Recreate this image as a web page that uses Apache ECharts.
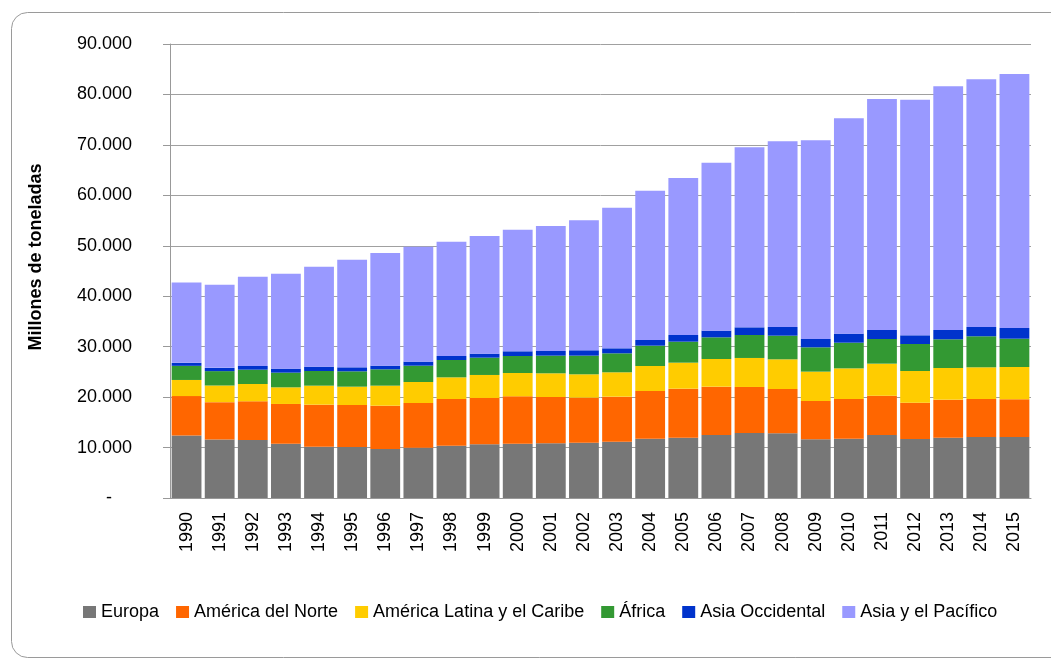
<!DOCTYPE html>
<html>
<head>
<meta charset="utf-8">
<script src="https://cdn.jsdelivr.net/npm/echarts@6/dist/echarts.min.js"></script>
<style>
html,body{margin:0;padding:0;background:#fff;}
#c{width:1051px;height:660px;}
</style>
</head>
<body>
<div id="c"></div>
<script>
const years = ['1990','1991','1992','1993','1994','1995','1996','1997','1998','1999','2000','2001','2002','2003','2004','2005','2006','2007','2008','2009','2010','2011','2012','2013','2014','2015'];
const europa = [12400,11600,11500,10770,10180,10110,9710,9980,10380,10640,10770,10840,10970,11170,11760,11960,12490,12890,12820,11630,11760,12490,11700,11960,12090,12090];
const americaNorte = [7800,7400,7670,7870,8320,8330,8590,8850,9250,9190,9390,9180,8920,8920,9450,9710,9580,9120,8790,7600,7870,7800,7200,7530,7540,7480];
const americaLatina = [3200,3300,3430,3300,3770,3630,3970,4170,4290,4560,4620,4700,4630,4830,4960,5160,5490,5750,5880,5820,6070,6340,6280,6280,6280,6400];
const africa = [2800,2850,2840,2910,2910,3040,3240,3230,3440,3430,3370,3500,3700,3760,4030,4160,4290,4550,4690,4820,5090,4890,5350,5690,6150,5610];
const asiaOccidental = [600,650,730,790,850,790,720,800,790,790,930,920,1060,990,1120,1330,1320,1520,1720,1650,1790,1790,1720,1850,1840,2120];
const asiaPacifico = [15900,16450,17710,18830,19830,21350,22340,22800,22670,23330,24120,24790,25770,27890,29610,31120,33310,35690,36810,39390,42690,45790,46720,48310,49110,50360];
const yTicks = [0,10000,20000,30000,40000,50000,60000,70000,80000,90000];

const seriesDefs = [
  ['Europa', europa, '#777777'],
  ['América del Norte', americaNorte, '#FF6600'],
  ['América Latina y el Caribe', americaLatina, '#FFCC00'],
  ['África', africa, '#339933'],
  ['Asia Occidental', asiaOccidental, '#0033CC'],
  ['Asia y el Pacífico', asiaPacifico, '#9999FF']
];

function fmt(v){
  if (v === 0) return '{dash|-}';
  return String(v).replace(/\B(?=(\d{3})+(?!\d))/g, '.');
}

const font = 'Liberation Sans, Arial, sans-serif';
const chart = echarts.init(document.getElementById('c'), null, {renderer:'canvas'});
chart.setOption({
  animation: false,
  backgroundColor: '#fff',
  graphic: [{
    type: 'rect',
    shape: {x: 11.5, y: 12.5, width: 1060, height: 645, r: 16},
    style: {fill: 'none', stroke: '#9a9a9a', lineWidth: 1},
    z: -1
  }],
  grid: {left: 170, right: 20, top: 44, bottom: 162, containLabel: false, outerBoundsMode: 'none'},
  legend: {
    left: 78, top: 598,
    itemWidth: 13, itemHeight: 12, itemGap: 17,
    icon: 'rect',
    textStyle: {fontFamily: font, fontSize: 18, color: '#000'},
    data: seriesDefs.map(d => d[0])
  },
  xAxis: {
    type: 'category',
    data: years,
    axisLine: {lineStyle: {color: '#999', width: 1}},
    axisTick: {length: 6, lineStyle: {color: '#999'}},
    axisLabel: {rotate: 90, fontFamily: font, fontSize: 18, color: '#000', margin: 14}
  },
  yAxis: {
    type: 'value',
    min: yTicks[0], max: yTicks[yTicks.length-1], interval: 10000,
    name: 'Millones de toneladas',
    nameLocation: 'middle',
    nameGap: 125,
    nameTextStyle: {fontFamily: font, fontSize: 18, fontWeight: 'bold', color: '#000', padding: [0,0,0,28]},
    axisLine: {show: true, lineStyle: {color: '#999', width: 1}},
    axisTick: {show: true, length: 7, lineStyle: {color: '#999'}},
    splitLine: {lineStyle: {color: '#a0a0a0', width: 1}},
    axisLabel: {
      formatter: fmt, fontFamily: font, fontSize: 18, color: '#000', margin: 38,
      rich: {dash: {fontFamily: font, fontSize: 18, color: '#000', padding: [0, 20, 0, 0]}}
    }
  },
  series: seriesDefs.map(d => ({
    name: d[0],
    type: 'bar',
    stack: 'total',
    data: d[1],
    barCategoryGap: '10%',
    itemStyle: {color: d[2]}
  }))
});
</script>
</body>
</html>
